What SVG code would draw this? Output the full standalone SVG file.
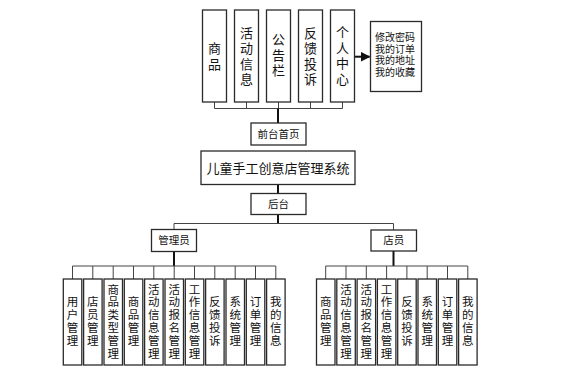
<svg xmlns="http://www.w3.org/2000/svg" width="580" height="372" viewBox="0 0 580 372">
<defs>
<style>
.box{fill:#fff;stroke:#2a2a2a;stroke-width:1.3}
.bus{fill:none;stroke:#444;stroke-width:1}
.trunk{fill:none;stroke:#111;stroke-width:2}
text{font-family:"Noto Sans CJK SC","Liberation Sans",sans-serif;fill:#111;text-anchor:middle}
.t13{font-size:13px}
.t11{font-size:11.5px}
.t10{font-size:10.5px}
.t9{font-size:10px}
.title{font-size:13px}
</style>
<marker id="arr" markerWidth="10" markerHeight="10" refX="9" refY="5" orient="auto" markerUnits="userSpaceOnUse">
<path d="M0,0 L10,5 L0,10 z" fill="#111"/>
</marker>
</defs>
<rect width="580" height="372" fill="#fff"/>

<g id="connectors">
<path class="bus" d="M214.5,102 V108.5 M246.5,102 V108.5 M278.5,102 V108.5 M310.5,102 V108.5 M342.5,102 V108.5 M214.5,108.5 H342.5"/>
<path class="trunk" d="M278,108.5 V123"/>
<path class="trunk" d="M354.5,56.7 H369.5" stroke-width="1.5" marker-end="url(#arr)"/>
<path class="trunk" d="M278,184.5 V193.5"/>
<path class="trunk" d="M278,214.5 V223.5"/>
<path class="bus" d="M174,223.5 H393.5 M174,223.5 V229.5 M393.5,223.5 V230"/>
<path class="trunk" d="M174,251.5 V266"/>
<path class="trunk" d="M393.5,251 V266"/>
<path class="bus" d="M72.5,266 H275.8 M72.5,266 V279 M92.8,266 V279 M113.2,266 V279 M133.5,266 V279 M153.8,266 V279 M174.2,266 V279 M194.5,266 V279 M214.8,266 V279 M235.2,266 V279 M255.5,266 V279 M275.8,266 V279"/>
<path class="bus" d="M325.7,266 H467.8 M325.7,266 V279 M346,266 V279 M366.3,266 V279 M386.6,266 V279 M406.9,266 V279 M427.2,266 V279 M447.5,266 V279 M467.8,266 V279"/>
</g>

<g id="n-shangpin"><rect class="box" x="202.5" y="10" width="24" height="92"/>
<text class="t13" x="214.5" y="53.2">商<tspan x="214.5" dy="15.5">品</tspan></text></g>
<g id="n-huodong"><rect class="box" x="234.5" y="10" width="24" height="92"/>
<text class="t13" x="246.5" y="37.7">活<tspan x="246.5" dy="15.5">动</tspan><tspan x="246.5" dy="15.5">信</tspan><tspan x="246.5" dy="15.5">息</tspan></text></g>
<g id="n-gonggao"><rect class="box" x="266.5" y="10" width="24" height="92"/>
<text class="t13" x="278.5" y="44">公<tspan x="278.5" dy="15.5">告</tspan><tspan x="278.5" dy="15.5">栏</tspan></text></g>
<g id="n-fankui"><rect class="box" x="298.5" y="10" width="24" height="92"/>
<text class="t13" x="310.5" y="37.7">反<tspan x="310.5" dy="15.5">馈</tspan><tspan x="310.5" dy="15.5">投</tspan><tspan x="310.5" dy="15.5">诉</tspan></text></g>
<g id="n-geren"><rect class="box" x="330.5" y="10" width="24" height="92"/>
<text class="t13" x="342.5" y="37.2">个<tspan x="342.5" dy="15.5">人</tspan><tspan x="342.5" dy="15.5">中</tspan><tspan x="342.5" dy="15.5">心</tspan></text></g>
<g id="n-geren-detail"><rect class="box" x="370.5" y="21.5" width="51" height="70"/>
<text class="t9" x="395" y="40.8">修改密码</text>
<text class="t9" x="395" y="52.6">我的订单</text>
<text class="t9" x="395" y="64.4">我的地址</text>
<text class="t9" x="395" y="76.2">我的收藏</text></g>

<g id="n-qiantai"><rect class="box" x="251" y="123" width="55" height="22"/>
<text class="t10" x="278.5" y="138">前台首页</text></g>
<g id="n-main"><rect class="box" x="201" y="151" width="154" height="33.5"/>
<text class="title" x="278" y="172.8">儿童手工创意店管理系统</text></g>
<g id="n-houtai"><rect class="box" x="251" y="193.5" width="55" height="21"/>
<text class="t10" x="278.5" y="208">后台</text></g>
<g id="n-admin"><rect class="box" x="151.5" y="229.5" width="45" height="22"/>
<text class="t10" x="174" y="244.3">管理员</text></g>
<g id="n-staff"><rect class="box" x="371" y="230" width="45.5" height="21"/>
<text class="t10" x="393.7" y="244.3">店员</text></g>

<g id="a1"><rect class="box" x="63.3" y="279" width="18.5" height="86"/>
<text class="t11" x="72.5" y="306.4">用<tspan x="72.5" dy="12.8">户</tspan><tspan x="72.5" dy="12.8">管</tspan><tspan x="72.5" dy="12.8">理</tspan></text></g>
<g id="a2"><rect class="box" x="83.6" y="279" width="18.5" height="86"/>
<text class="t11" x="92.8" y="306.4">店<tspan x="92.8" dy="12.8">员</tspan><tspan x="92.8" dy="12.8">管</tspan><tspan x="92.8" dy="12.8">理</tspan></text></g>
<g id="a3"><rect class="box" x="104" y="279" width="18.5" height="86"/>
<text class="t11" x="113.2" y="293.6">商<tspan x="113.2" dy="12.8">品</tspan><tspan x="113.2" dy="12.8">类</tspan><tspan x="113.2" dy="12.8">型</tspan><tspan x="113.2" dy="12.8">管</tspan><tspan x="113.2" dy="12.8">理</tspan></text></g>
<g id="a4"><rect class="box" x="124.3" y="279" width="18.5" height="86"/>
<text class="t11" x="133.5" y="306.4">商<tspan x="133.5" dy="12.8">品</tspan><tspan x="133.5" dy="12.8">管</tspan><tspan x="133.5" dy="12.8">理</tspan></text></g>
<g id="a5"><rect class="box" x="144.6" y="279" width="18.5" height="86"/>
<text class="t11" x="153.8" y="293.6">活<tspan x="153.8" dy="12.8">动</tspan><tspan x="153.8" dy="12.8">信</tspan><tspan x="153.8" dy="12.8">息</tspan><tspan x="153.8" dy="12.8">管</tspan><tspan x="153.8" dy="12.8">理</tspan></text></g>
<g id="a6"><rect class="box" x="165" y="279" width="18.5" height="86"/>
<text class="t11" x="174.2" y="293.6">活<tspan x="174.2" dy="12.8">动</tspan><tspan x="174.2" dy="12.8">报</tspan><tspan x="174.2" dy="12.8">名</tspan><tspan x="174.2" dy="12.8">管</tspan><tspan x="174.2" dy="12.8">理</tspan></text></g>
<g id="a7"><rect class="box" x="185.3" y="279" width="18.5" height="86"/>
<text class="t11" x="194.5" y="293.6">工<tspan x="194.5" dy="12.8">作</tspan><tspan x="194.5" dy="12.8">信</tspan><tspan x="194.5" dy="12.8">息</tspan><tspan x="194.5" dy="12.8">管</tspan><tspan x="194.5" dy="12.8">理</tspan></text></g>
<g id="a8"><rect class="box" x="205.6" y="279" width="18.5" height="86"/>
<text class="t11" x="214.8" y="306.4">反<tspan x="214.8" dy="12.8">馈</tspan><tspan x="214.8" dy="12.8">投</tspan><tspan x="214.8" dy="12.8">诉</tspan></text></g>
<g id="a9"><rect class="box" x="226" y="279" width="18.5" height="86"/>
<text class="t11" x="235.2" y="306.4">系<tspan x="235.2" dy="12.8">统</tspan><tspan x="235.2" dy="12.8">管</tspan><tspan x="235.2" dy="12.8">理</tspan></text></g>
<g id="a10"><rect class="box" x="246.3" y="279" width="18.5" height="86"/>
<text class="t11" x="255.5" y="306.4">订<tspan x="255.5" dy="12.8">单</tspan><tspan x="255.5" dy="12.8">管</tspan><tspan x="255.5" dy="12.8">理</tspan></text></g>
<g id="a11"><rect class="box" x="266.6" y="279" width="18.5" height="86"/>
<text class="t11" x="275.8" y="306.4">我<tspan x="275.8" dy="12.8">的</tspan><tspan x="275.8" dy="12.8">信</tspan><tspan x="275.8" dy="12.8">息</tspan></text></g>

<g id="s1"><rect class="box" x="316.5" y="279" width="18.5" height="86"/>
<text class="t11" x="325.7" y="306.4">商<tspan x="325.7" dy="12.8">品</tspan><tspan x="325.7" dy="12.8">管</tspan><tspan x="325.7" dy="12.8">理</tspan></text></g>
<g id="s2"><rect class="box" x="336.8" y="279" width="18.5" height="86"/>
<text class="t11" x="346" y="293.6">活<tspan x="346" dy="12.8">动</tspan><tspan x="346" dy="12.8">信</tspan><tspan x="346" dy="12.8">息</tspan><tspan x="346" dy="12.8">管</tspan><tspan x="346" dy="12.8">理</tspan></text></g>
<g id="s3"><rect class="box" x="357.1" y="279" width="18.5" height="86"/>
<text class="t11" x="366.3" y="293.6">活<tspan x="366.3" dy="12.8">动</tspan><tspan x="366.3" dy="12.8">报</tspan><tspan x="366.3" dy="12.8">名</tspan><tspan x="366.3" dy="12.8">管</tspan><tspan x="366.3" dy="12.8">理</tspan></text></g>
<g id="s4"><rect class="box" x="377.4" y="279" width="18.5" height="86"/>
<text class="t11" x="386.6" y="293.6">工<tspan x="386.6" dy="12.8">作</tspan><tspan x="386.6" dy="12.8">信</tspan><tspan x="386.6" dy="12.8">息</tspan><tspan x="386.6" dy="12.8">管</tspan><tspan x="386.6" dy="12.8">理</tspan></text></g>
<g id="s5"><rect class="box" x="397.7" y="279" width="18.5" height="86"/>
<text class="t11" x="406.9" y="306.4">反<tspan x="406.9" dy="12.8">馈</tspan><tspan x="406.9" dy="12.8">投</tspan><tspan x="406.9" dy="12.8">诉</tspan></text></g>
<g id="s6"><rect class="box" x="418" y="279" width="18.5" height="86"/>
<text class="t11" x="427.2" y="306.4">系<tspan x="427.2" dy="12.8">统</tspan><tspan x="427.2" dy="12.8">管</tspan><tspan x="427.2" dy="12.8">理</tspan></text></g>
<g id="s7"><rect class="box" x="438.3" y="279" width="18.5" height="86"/>
<text class="t11" x="447.5" y="306.4">订<tspan x="447.5" dy="12.8">单</tspan><tspan x="447.5" dy="12.8">管</tspan><tspan x="447.5" dy="12.8">理</tspan></text></g>
<g id="s8"><rect class="box" x="458.6" y="279" width="18.5" height="86"/>
<text class="t11" x="467.8" y="306.4">我<tspan x="467.8" dy="12.8">的</tspan><tspan x="467.8" dy="12.8">信</tspan><tspan x="467.8" dy="12.8">息</tspan></text></g>
</svg>
